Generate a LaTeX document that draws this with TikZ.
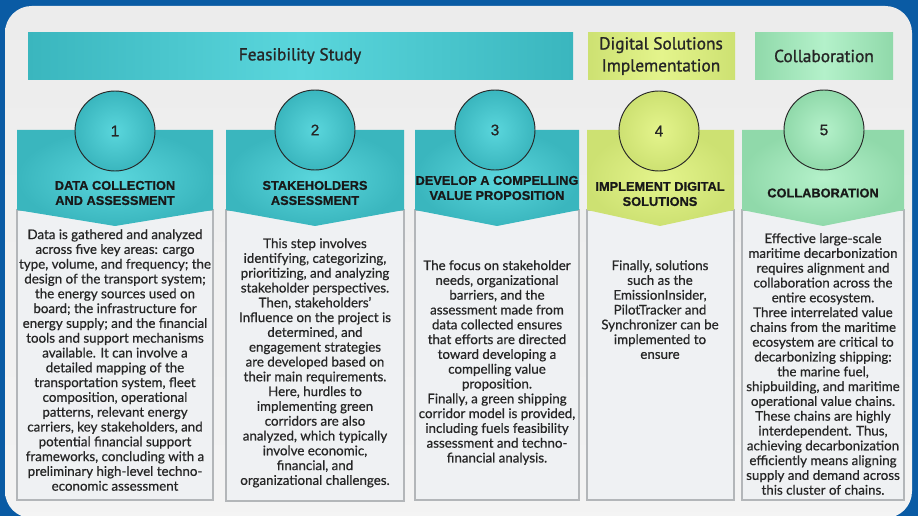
\documentclass[tikz,border=0pt]{standalone}
\usepackage{fontspec}
\setmainfont{Lato}[RawFeature={embolden=0.6}]
\newfontfamily\barfont{PT Sans}[RawFeature={embolden=1.2}]
\newfontfamily\capfont{Liberation Sans}[RawFeature={embolden=0.8}]
\usetikzlibrary{positioning}
\definecolor{frameblue}{HTML}{0A5BA4}
\definecolor{panelgray}{HTML}{ECECEC}
\definecolor{boxgray}{HTML}{EFF1F3}
\definecolor{boxline}{HTML}{B3B6B9}
\definecolor{tealin}{HTML}{5AD6DC}
\definecolor{tealout}{HTML}{3AB6BE}
\definecolor{limein}{HTML}{E4F48C}
\definecolor{limeout}{HTML}{CDE172}
\definecolor{greenin}{HTML}{B4F1CA}
\definecolor{greenout}{HTML}{90D9AA}
\definecolor{inkgray}{HTML}{262626}
\tikzstyle{phasebar}=[font=\barfont\fontsize{13}{16.5}\selectfont, align=center, text=inkgray]
\tikzstyle{txtbox}=[fill=boxgray, draw=boxline, line width=0.9pt]
\tikzstyle{stepnum}=[circle, draw=black!85, line width=0.7pt, minimum size=60pt, inner sep=0pt, font=\capfont\fontsize{11.5}{12}\selectfont, text=inkgray]
\tikzstyle{stephead}=[align=center, inner sep=0pt, font=\capfont\bfseries\fontsize{9.6}{11.3}\selectfont, text=black!90]
\tikzstyle{steptext}=[align=center, inner sep=0pt, anchor=north, font=\fontsize{10}{11.1}\selectfont, text=inkgray]

\begin{document}
\begin{tikzpicture}[x=0.75pt,y=-0.75pt]
\useasboundingbox (0,0) rectangle (918,516);
\fill[frameblue] (0,0) rectangle (918,516);
\shade[top color=panelgray, bottom color=panelgray!60!white, rounded corners=20] (5,6) rectangle (912,518);
% phase bars
\shade[left color=tealout, right color=tealout, middle color=tealin] (28,33) rectangle (573,80);
\shade[left color=limeout, right color=limeout, middle color=limein] (588,33) rectangle (735,80);
\shade[left color=greenout, right color=greenout, middle color=greenin] (755,33) rectangle (893,80);
\node[phasebar] (feas) at (300,56) {Feasibility Study};
\node[phasebar] (digi) at (661,56) {Digital Solutions\\Implementation};
\node[phasebar] (coll) at (824,56) {Collaboration};
% step 1
\draw[txtbox] (17,210) rectangle (213,500);
\shade[inner color=tealin, outer color=tealout] (17,130) -- (213,130) -- (213,210) -- (115,226) -- (17,210) -- cycle;
\node[stepnum, shade, inner color=tealin, outer color=tealout] (n1) at (115,131) {1};
\node[stephead] (h1) at (115,193) {DATA COLLECTION\\AND ASSESSMENT};
\node[steptext] (t1) at (115,229) {Data is gathered and analyzed\\across five key areas: cargo\\type, volume, and frequency; the\\design of the transport system;\\the energy sources used on\\board; the infrastructure for\\energy supply; and the financial\\tools and support mechanisms\\available. It can involve a\\detailed mapping of the\\transportation system, fleet\\composition, operational\\patterns, relevant energy\\carriers, key stakeholders, and\\potential financial support\\frameworks, concluding with a\\preliminary high-level techno-\\economic assessment};
% step 2
\draw[txtbox] (226,210) rectangle (404,501);
\shade[inner color=tealin, outer color=tealout] (226,130) -- (404,130) -- (404,210) -- (315,226) -- (226,210) -- cycle;
\node[stepnum, shade, inner color=tealin, outer color=tealout] (n2) at (315,130) {2};
\node[stephead] (h2) at (315,193) {STAKEHOLDERS\\ASSESSMENT};
\node[steptext] (t2) at (315,238) {This step involves\\identifying, categorizing,\\prioritizing, and analyzing\\stakeholder perspectives.\\Then, stakeholders'\\Influence on the project is\\determined, and\\engagement strategies\\are developed based on\\their main requirements.\\Here, hurdles to\\implementing green\\corridors are also\\analyzed, which typically\\involve economic,\\financial, and\\organizational challenges.};
% step 3
\draw[txtbox] (415,210) rectangle (579,500);
\shade[inner color=tealin, outer color=tealout] (415,130) -- (579,130) -- (579,210) -- (497,226) -- (415,210) -- cycle;
\node[stepnum, shade, inner color=tealin, outer color=tealout] (n3) at (495,130) {3};
\node[stephead] (h3) at (497,188) {DEVELOP A COMPELLING\\VALUE PROPOSITION};
\node[steptext] (t3) at (497,260) {The focus on stakeholder\\needs, organizational\\barriers, and the\\assessment made from\\data collected ensures\\that efforts are directed\\toward developing a\\compelling value\\proposition.\\Finally, a green shipping\\corridor model is provided,\\including fuels feasibility\\assessment and techno-\\financial analysis.};
% step 4
\draw[txtbox] (587,210) rectangle (734,500);
\shade[inner color=limein, outer color=limeout] (587,130) -- (734,130) -- (734,210) -- (660,226) -- (587,210) -- cycle;
\node[stepnum, shade, inner color=limein, outer color=limeout] (n4) at (659,131) {4};
\node[stephead] (h4) at (660,194) {IMPLEMENT DIGITAL\\SOLUTIONS};
\node[steptext] (t4) at (660,260) {Finally, solutions\\such as the\\EmissionInsider,\\PilotTracker and\\Synchronizer can be\\implemented to\\ensure};
% step 5
\draw[txtbox] (742,210) rectangle (904,500);
\shade[inner color=greenin, outer color=greenout] (742,130) -- (904,130) -- (904,210) -- (823,226) -- (742,210) -- cycle;
\node[stepnum, shade, inner color=greenin, outer color=greenout] (n5) at (824,130) {5};
\node[stephead] (h5) at (823,193) {COLLABORATION};
\node[steptext] (t5) at (823,233) {Effective large-scale\\maritime decarbonization\\requires alignment and\\collaboration across the\\entire ecosystem.\\Three interrelated value\\chains from the maritime\\ecosystem are critical to\\decarbonizing shipping:\\the marine fuel,\\shipbuilding, and maritime\\operational value chains.\\These chains are highly\\interdependent. Thus,\\achieving decarbonization\\efficiently means aligning\\supply and demand across\\this cluster of chains.};
\end{tikzpicture}
\end{document}
